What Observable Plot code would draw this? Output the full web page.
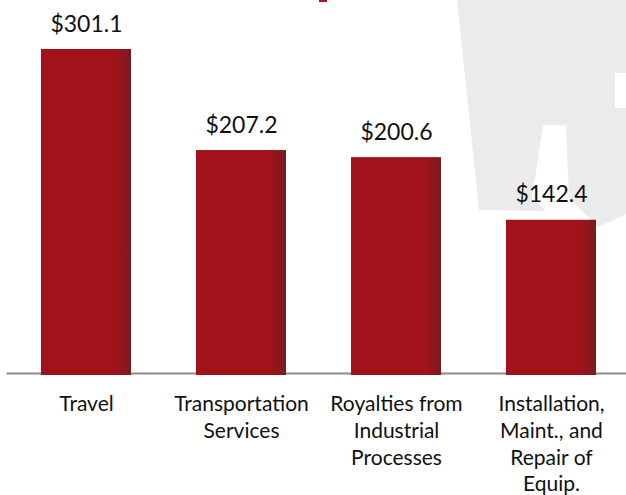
<!DOCTYPE html>
<html>
<head>
<meta charset="utf-8">
<script src="https://cdn.jsdelivr.net/npm/d3@7"></script>
<script src="https://cdn.jsdelivr.net/npm/@observablehq/plot@0.6"></script>
<style>
  html, body { margin: 0; padding: 0; background: #ffffff; }
  #wrap { position: relative; width: 626px; height: 495px; overflow: hidden; }
  #bg { position: absolute; left: 0; top: 0; }
  #chart { position: absolute; left: 0; top: 0; }
</style>
</head>
<body>
<div id="wrap">
  <svg id="bg" width="626" height="495">
    <polygon fill="#ebebeb" points="457,0 626,0 626,73 615,73 615,108 626,108 626,214 598,227 569,198 566,125 543,125 532,198 546,211 479,210"></polygon>
    <rect x="319" y="0" width="8" height="2" fill="#b0141c"></rect>
  </svg>
  <div id="chart"></div>
</div>
<script>
const categories = ["Travel", "Transportation\nServices", "Royalties from\nIndustrial\nProcesses", "Installation,\nMaint., and\nRepair of\nEquip."];
const values = [301.1, 207.2, 200.6, 142.4];
const valueLabels = ["$301.1", "$207.2", "$200.6", "$142.4"];

const data = categories.map((c, i) => ({category: c, value: values[i], label: valueLabels[i]}));

const plot = Plot.plot({
  width: 626,
  height: 495,
  marginTop: 49,
  marginBottom: 122,
  marginLeft: 16.6,
  marginRight: 4.6,
  style: {background: "transparent", fontFamily: "Lato, sans-serif", color: "#000"},
  x: {domain: categories, paddingInner: 0.417, paddingOuter: 0.15, axis: null},
  y: {domain: [0, 301.1], axis: null},
  marks: [
    Plot.ruleY([0], {stroke: "#8c8c8c", strokeWidth: 2, insetLeft: -10, insetRight: -6}),
    Plot.barY(data, {x: "category", y: "value", fill: "url(#barGrad)", insetBottom: -2}),
    Plot.text(data, {x: "category", y: "value", text: "label", lineAnchor: "bottom", dy: -18, fontSize: 23, fill: "#111"}),
    Plot.text(data, {x: "category", y: 0, text: "category", lineAnchor: "top", dy: 19, fontSize: 21, lineHeight: 1.27, fill: "#111"})
  ]
});

const svg = d3.select(plot);
const defs = svg.insert("defs", ":first-child");
const g = defs.append("linearGradient").attr("id", "barGrad").attr("x1", "0").attr("x2", "1").attr("y1", "0").attr("y2", "0");
g.append("stop").attr("offset", "0%").attr("stop-color", "#a2121a");
g.append("stop").attr("offset", "82%").attr("stop-color", "#a2121a");
g.append("stop").attr("offset", "100%").attr("stop-color", "#781b1e");

document.getElementById("chart").appendChild(plot);
</script>
</body>
</html>
